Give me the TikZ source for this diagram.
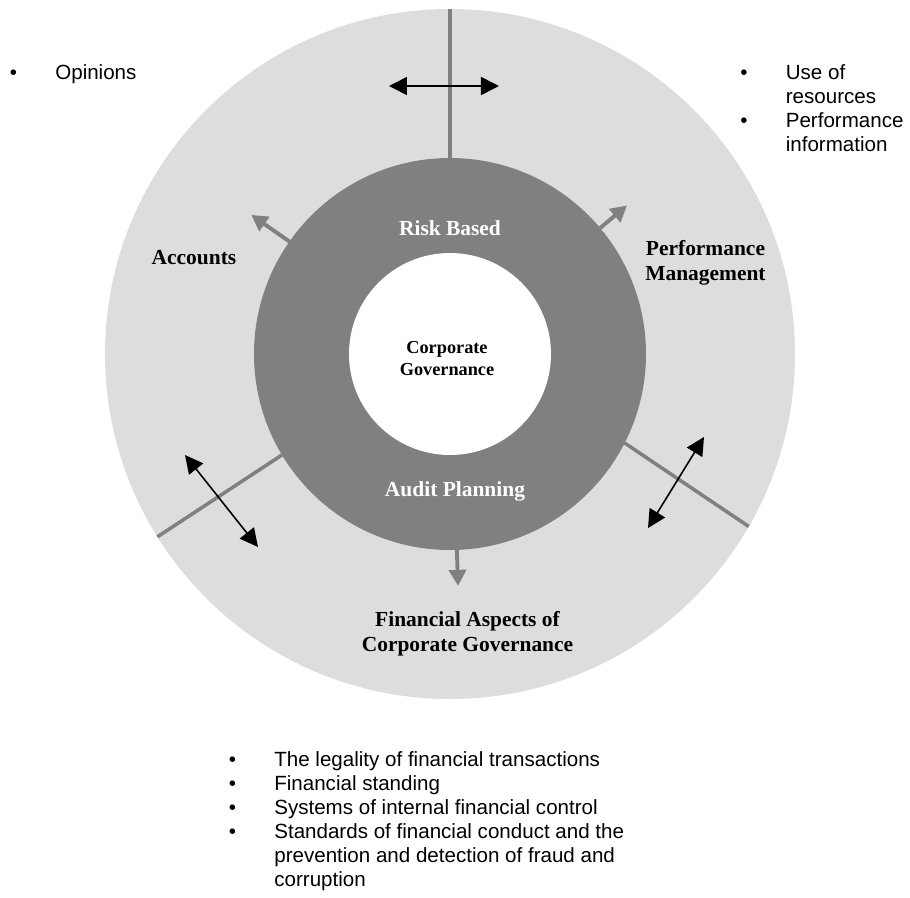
\documentclass[tikz,border=0pt]{standalone}
\usepackage{fontspec}
\setmainfont{Liberation Serif}
\setsansfont{Liberation Sans}
\usetikzlibrary{arrows.meta}
\definecolor{paleband}{HTML}{DDDDDD}
\definecolor{ringgray}{HTML}{808080}

\begin{document}
\begin{tikzpicture}[
    disc/.style={circle, inner sep=0pt, outer sep=0pt},
    divider/.style={ringgray, line width=2pt},
    twoway/.style={{Triangle[length=0.36cm,width=0.36cm]}-{Triangle[length=0.36cm,width=0.36cm]}, line width=0.9pt},
    outward/.style={-{Triangle[length=0.32cm,width=0.34cm]}, ringgray, line width=2.2pt},
    ringtext/.style={font=\fontsize{12.2}{14.2}\selectfont\bfseries, inner sep=0pt, align=center, anchor=base},
    bullets/.style={font=\sffamily\fontsize{11.7}{13.7}\selectfont, inner sep=0pt, anchor=base west}
  ]
  \useasboundingbox (-9,-10.86) rectangle (9.2,7.08);

  % three rings
  \node (outer)[disc, fill=paleband, minimum size=13.8cm] at (0,0) {};
  \node (ring)[disc, fill=ringgray, minimum size=7.84cm] at (0,0) {};
  \node (core)[disc, fill=white, minimum size=4.04cm] at (0,0) {};

  % spokes through the outer band
  \draw[divider] (ring.90) -- (outer.90);
  \draw[divider] (ring.211) -- (outer.212);
  \draw[divider] (ring.333) -- (outer.330);

  % two-way arrows across the spokes
  \coordinate (topL) at (-1.22,5.36);
  \coordinate (topR) at (0.98,5.36);
  \coordinate (leftA) at (-5.30,-2.02);
  \coordinate (leftB) at (-3.84,-3.86);
  \coordinate (rightA) at (3.96,-3.48);
  \coordinate (rightB) at (5.08,-1.66);
  \draw[twoway] (topL) -- (topR);
  \draw[twoway] (leftA) -- (leftB);
  \draw[twoway] (rightA) -- (rightB);

  % arrows out of the ring
  \coordinate (accTip) at (145:4.85);
  \coordinate (perfTip) at (40:4.62);
  \coordinate (finTip) at (272:4.64);
  \draw[outward] (ring.145) -- (accTip);
  \draw[outward] (ring.40) -- (perfTip);
  \draw[outward] (ring.272) -- (finTip);

  % base of a two-line label is its last line
  \node (risk)[ringtext, text=white] at (0,2.38) {Risk Based};
  \node (audit)[ringtext, text=white] at (0.1,-2.84) {Audit Planning};
  \node (gov)[ringtext, font=\fontsize{10.4}{12.5}\selectfont\bfseries] at (-0.06,-0.42) {Corporate\\Governance};
  \node (acc)[ringtext] at (-5.12,1.8) {Accounts};
  \node (perf)[ringtext] at (5.11,1.48) {Performance\\Management};
  \node (fin)[ringtext] at (0.35,-5.94) {Financial Aspects of\\Corporate Governance};

  \node (opin)[bullets] at (-8.81,5.5) {\begin{tabular}[t]{@{}p{0.91cm}@{}l@{}}
    \textbullet & Opinions
  \end{tabular}};
  \node (use)[bullets] at (5.8,5.5) {\begin{tabular}[t]{@{}p{0.91cm}@{}l@{}}
    \textbullet & Use of\\
                & resources\\
    \textbullet & Performance\\
                & information
  \end{tabular}};
  \node (checks)[bullets] at (-4.43,-8.24) {\begin{tabular}[t]{@{}p{0.91cm}@{}l@{}}
    \textbullet & The legality of financial transactions\\
    \textbullet & Financial standing\\
    \textbullet & Systems of internal financial control\\
    \textbullet & Standards of financial conduct and the\\
                & prevention and detection of fraud and\\
                & corruption
  \end{tabular}};
\end{tikzpicture}
\end{document}
